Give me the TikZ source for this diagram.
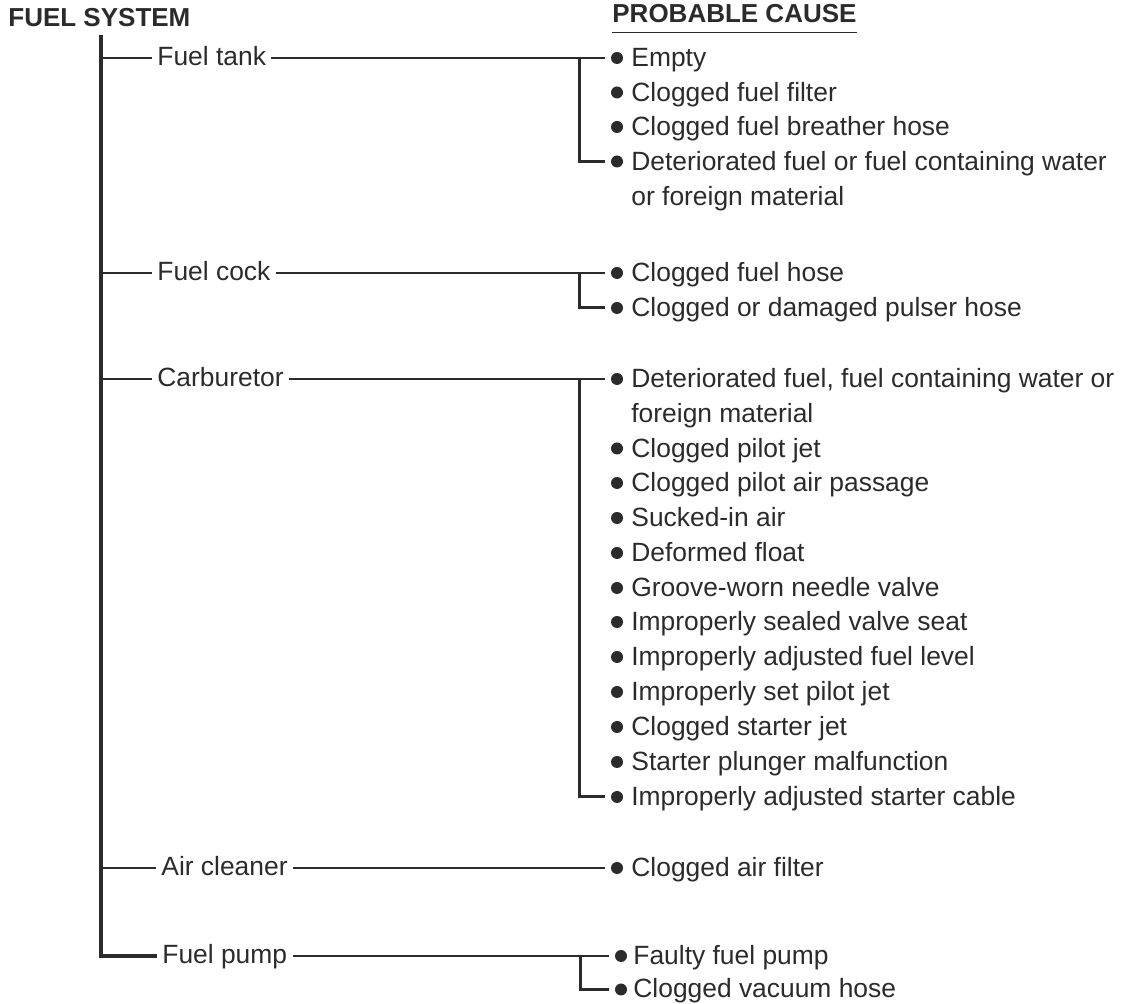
\documentclass[tikz,border=0pt]{standalone}
\usepackage{fontspec}
\setmainfont{Liberation Sans}
\usepackage{xcolor}
\usetikzlibrary{positioning}
\definecolor{ink}{rgb}{0.17,0.17,0.17}

\begin{document}
\begin{tikzpicture}[x=0.5pt,y=-0.5pt,ink,
    every node/.style={font=\fontsize{13.2}{17.4}\selectfont},
    part/.style={anchor=west,inner sep=2.5pt,text height=9.5pt,text depth=2pt},
    cause/.style={anchor=base west,inner sep=0pt,align=left},
    dot/.style={circle,fill=ink,minimum size=6pt,inner sep=0pt,outer sep=3pt},
    head/.style={font=\fontsize{13}{15}\selectfont\bfseries,anchor=base west,inner xsep=0pt,inner ysep=4.5pt,text depth=0pt},
    trunk/.style={line width=1.7pt},
    branch/.style={line width=1.3pt},
    bracket/.style={line width=1.5pt}]
        \useasboundingbox (0,0) rectangle (1136,1004);
        % headings
        \node[head] (fs) at (8,27) {FUEL SYSTEM};
        \node[head] (pc) at (612,23) {PROBABLE CAUSE};
        \draw[line width=0.75pt] (pc.south west) -- (pc.south east);
        % parts of the fuel system
        \coordinate (top) at (101,35);
        \node[part] (tank) at (152,58) {Fuel tank};
        \node[part] (cock) at (152,273) {Fuel cock};
        \node[part] (carb) at (152,379) {Carburetor};
        \node[part] (air) at (156,868) {Air cleaner};
        \node[part] (pump) at (157,956) {Fuel pump};
        \draw[trunk] (top) |- (pump);
        \draw[branch] (top |- tank) -- (tank);
        \draw[branch] (top |- cock) -- (cock);
        \draw[branch] (top |- carb) -- (carb);
        \draw[branch] (top |- air) -- (air);
        % fuel tank
        \node[dot] (t1) at (617,58) {};
        \node[dot] (t2) at (617,92.5) {};
        \node[dot] (t3) at (617,127) {};
        \node[dot] (t4) at (617,161.5) {};
        \node[cause] (tt1) at (631,67) {Empty};
        \node[cause] (tt2) at (631,101.5) {Clogged fuel filter};
        \node[cause] (tt3) at (631,136) {Clogged fuel breather hose};
        \node[cause] (tt4) at (631,205.3) {Deteriorated fuel or fuel containing water\\or foreign material};
        \coordinate (jt) at (579,58);
        \draw[branch] (tank) -- (t1);
        \draw[bracket] (jt) |- (t4);
        % fuel cock
        \node[dot] (k1) at (617,273) {};
        \node[dot] (k2) at (617,308) {};
        \node[cause] (kk1) at (631,282) {Clogged fuel hose};
        \node[cause] (kk2) at (631,317) {Clogged or damaged pulser hose};
        \coordinate (jk) at (579,273);
        \draw[branch] (cock) -- (k1);
        \draw[bracket] (jk) |- (k2);
        % carburetor
        \node[dot] (c1) at (617,379) {};
        \node[dot] (c2) at (617,448.5) {};
        \node[dot] (c3) at (617,483) {};
        \node[dot] (c4) at (617,518) {};
        \node[dot] (c5) at (617,553) {};
        \node[dot] (c6) at (617,588) {};
        \node[dot] (c7) at (617,622) {};
        \node[dot] (c8) at (617,657) {};
        \node[dot] (c9) at (617,692) {};
        \node[dot] (c10) at (617,727) {};
        \node[dot] (c11) at (617,762) {};
        \node[dot] (c12) at (617,797) {};
        \node[cause] (cc1) at (631,422.8) {Deteriorated fuel, fuel containing water or\\foreign material};
        \node[cause] (cc2) at (631,457.5) {Clogged pilot jet};
        \node[cause] (cc3) at (631,492) {Clogged pilot air passage};
        \node[cause] (cc4) at (631,527) {Sucked-in air};
        \node[cause] (cc5) at (631,562) {Deformed float};
        \node[cause] (cc6) at (631,597) {Groove-worn needle valve};
        \node[cause] (cc7) at (631,631) {Improperly sealed valve seat};
        \node[cause] (cc8) at (631,666) {Improperly adjusted fuel level};
        \node[cause] (cc9) at (631,701) {Improperly set pilot jet};
        \node[cause] (cc10) at (631,736) {Clogged starter jet};
        \node[cause] (cc11) at (631,771) {Starter plunger malfunction};
        \node[cause] (cc12) at (631,806) {Improperly adjusted starter cable};
        \coordinate (jc) at (579,379);
        \draw[branch] (carb) -- (c1);
        \draw[bracket] (jc) |- (c12);
        % air cleaner
        \node[dot] (a1) at (617,868) {};
        \node[cause] (aa1) at (631,877) {Clogged air filter};
        \draw[branch] (air) -- (a1);
        % fuel pump
        \node[dot] (p1) at (621,956) {};
        \node[dot] (p2) at (621,989.5) {};
        \node[cause] (pp1) at (633,965) {Faulty fuel pump};
        \node[cause] (pp2) at (633,998) {Clogged vacuum hose};
        \coordinate (jp) at (580,956);
        \draw[branch] (pump) -- (p1);
        \draw[bracket] (jp) |- (p2);
      \end{tikzpicture}
\end{document}
